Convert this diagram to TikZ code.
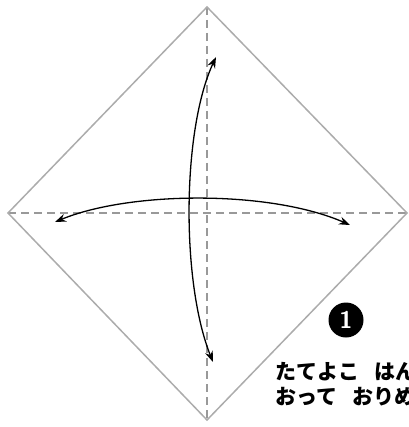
\documentclass[tikz,border=0pt]{standalone}
\usepackage{fontspec}
\newfontfamily\cjk{Noto Sans CJK JP}
\usetikzlibrary{arrows.meta}
\begin{document}
\begin{tikzpicture}[x=1pt, y=-1pt]
    % Styles
    \tikzset{edge/.style={draw=gray!65, line width=1.5pt, line join=miter},
        foldline/.style={draw=gray!80, line width=1.6pt, dash pattern=on 8pt off 5pt},
        foldarrow/.style={draw=black, line width=1.3pt, {Stealth[length=11pt,width=8pt]}-{Stealth[length=11pt,width=8pt]}},
        stepnum/.style={circle, fill=black, text=white, inner sep=0pt, minimum size=35pt, font=\sffamily\bfseries\fontsize{24}{24}\selectfont},
        caption/.style={anchor=north west, align=left, font=\cjk\bfseries\fontsize{21}{25}\selectfont, inner sep=0pt}}
    \useasboundingbox (0,0) rectangle (408,427);
    \clip (0,0) rectangle (408,427);

    % === Corners of the square ===
    \coordinate (top) at (207,7);
    \coordinate (left) at (8,213);
    \coordinate (right) at (407,213);
    \coordinate (bottom) at (207,420);

    % === Fold lines ===
    \draw [foldline] (top) -- (bottom);
    \draw [foldline] (left) -- (right);

    % === Paper outline ===
    \draw [edge] (top) -- (right) -- (bottom) -- (left) -- cycle;

    % === Arrows ===
    \coordinate (vtop) at (216,57);
    \coordinate (vbot) at (213,362);
    \coordinate (hleft) at (55,222);
    \coordinate (hright) at (350,225);
    \draw [foldarrow] (vtop) .. controls (182,130) and (181,282) .. (vbot);
    \draw [foldarrow] (hleft) .. controls (130,191) and (270,190) .. (hright);

    % === Step label ===
    \node [stepnum] (step1) at (346,320) {1};
    \node [caption] (note) at (275,362) {たてよこ\hspace{0.75em}はんぶんに\\おって\hspace{0.75em}おりめを\hspace{0.75em}つける};
\end{tikzpicture}
\end{document}
